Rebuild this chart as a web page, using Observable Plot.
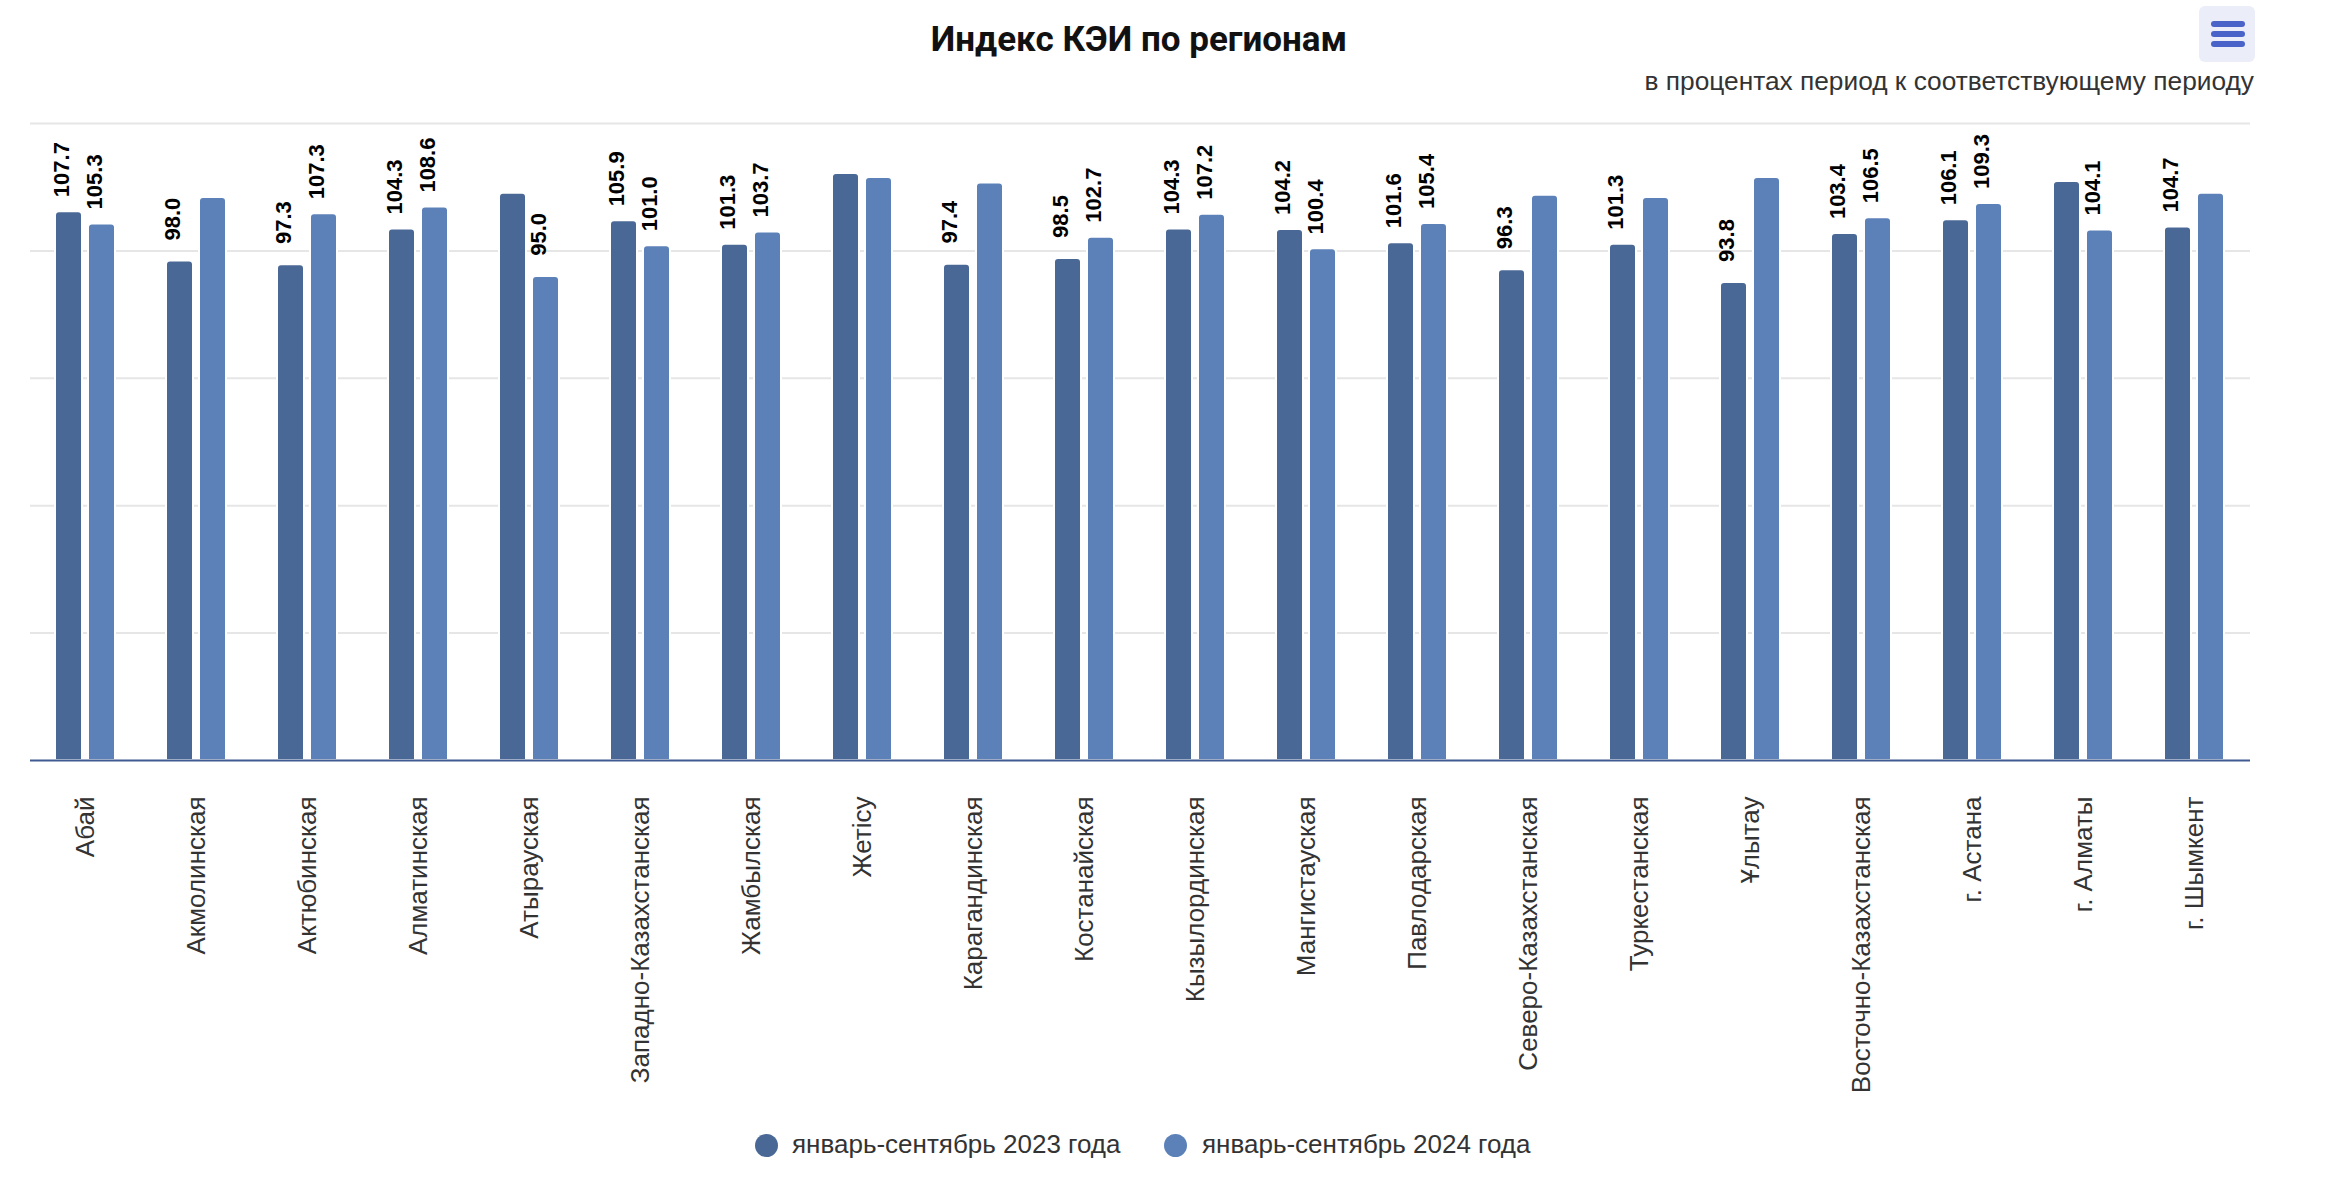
<!DOCTYPE html>
<html>
<head>
<meta charset="utf-8">
<script src="https://cdn.jsdelivr.net/npm/d3@7"></script>
<script src="https://cdn.jsdelivr.net/npm/@observablehq/plot@0.6"></script>
<style>
  html, body { margin: 0; padding: 0; background: #ffffff; }
  #page { position: relative; width: 2326px; height: 1182px; overflow: hidden; font-family: "Liberation Sans", Arial, sans-serif; }
  #header { position: relative; height: 100px; }
  #title { position: absolute; left: 1139px; top: 22px; transform: translateX(-50%); white-space: nowrap;
           font-family: Roboto, "Noto Sans", sans-serif; font-weight: 700; font-size: 35px; line-height: 35px; color: #111; }
  #subtitle { position: absolute; right: 72px; top: 68px; white-space: nowrap; font-size: 26.3px; line-height: 26px; color: #333; }
  #menu { position: absolute; left: 2199px; top: 6px; width: 56px; height: 56px; border-radius: 6px; background: #ebedf9; }
  #menu span { position: absolute; left: 12px; width: 34px; height: 6px; border-radius: 3px; background: #4a63c8; }
  #chart { position: relative; height: 1000px; }
  #legend { position: relative; height: 82px; }
  .lg-dot { position: absolute; width: 23px; height: 23px; border-radius: 50%; top: 33.5px; }
  .lg-text { position: absolute; top: 31px; font-size: 26px; line-height: 26px; color: #333; white-space: nowrap; }
</style>
</head>
<body>
<div id="page">
  <div id="header">
    <div id="title">Индекс КЭИ по регионам</div>
    <div id="subtitle">в процентах период к соответствующему периоду</div>
    <div id="menu"><span style="top:15px"></span><span style="top:24.7px"></span><span style="top:34.7px"></span></div>
  </div>
  <div id="chart"></div>
  <div id="legend"></div>
</div>
<script>
const regions = ["Абай", "Акмолинская", "Актюбинская", "Алматинская", "Атырауская", "Западно-Казахстанская",
  "Жамбылская", "Жетісу", "Карагандинская", "Костанайская", "Кызылординская", "Мангистауская", "Павлодарская",
  "Северо-Казахстанская", "Туркестанская", "Ұлытау", "Восточно-Казахстанская", "г. Астана", "г. Алматы", "г. Шымкент"];
const seriesNames = ["январь-сентябрь 2023 года", "январь-сентябрь 2024 года"];
const values2023 = [107.7, 98.0, 97.3, 104.3, 111.3, 105.9, 101.3, 115.2, 97.4, 98.5, 104.3, 104.2, 101.6, 96.3, 101.3, 93.8, 103.4, 106.1, 113.6, 104.7];
const values2024 = [105.3, 110.5, 107.3, 108.6, 95.0, 101.0, 103.7, 114.4, 113.3, 102.7, 107.2, 100.4, 105.4, 110.9, 110.5, 114.4, 106.5, 109.3, 104.1, 111.3];
// whether the value label is shown above the bar
const labeled2023 = [true, true, true, true, false, true, true, false, true, true, true, true, true, true, true, true, true, true, false, true];
const labeled2024 = [true, false, true, true, true, true, true, false, false, true, true, true, true, false, false, false, true, true, true, false];
const gridTicks = [0, 25, 50, 75, 100, 125];
const seriesColors = ["#4a6896", "#5b81b8"];

const data = regions.flatMap((r, i) => [
  {region: r, series: seriesNames[0], value: values2023[i], labeled: labeled2023[i]},
  {region: r, series: seriesNames[1], value: values2024[i], labeled: labeled2024[i]}
]);

const chart = Plot.plot({
  width: 2326,
  height: 1000,
  marginTop: 23,
  marginBottom: 340,
  marginLeft: 26,
  marginRight: 73,
  style: {fontFamily: "'Liberation Sans', Arial, sans-serif", background: "#ffffff"},
  fx: {domain: regions, padding: 0, label: null},
  x: {domain: seriesNames, paddingInner: 0.176, paddingOuter: 0.7255, axis: null},
  y: {domain: [0, 125], axis: null},
  color: {domain: seriesNames, range: seriesColors},
  marks: [
    Plot.ruleY(gridTicks.slice(1), {stroke: "#e6e6e6", strokeWidth: 2}),
    Plot.barY(data, {fx: "region", x: "series", y: "value", fill: "series", stroke: "#ffffff", strokeWidth: 2, ry1: 4}),
    Plot.ruleY([0], {stroke: "#3f5b92", strokeWidth: 2}),
    Plot.text(data.filter(d => d.labeled), {
      fx: "region", x: "series", y: "value", text: d => d.value.toFixed(1),
      rotate: -90, textAnchor: "middle", dx: -7, dy: -42,
      fontSize: 22, fontWeight: "bold", fill: "#000000"
    }),
    Plot.axisFx({anchor: "bottom", tickSize: 0, tickRotate: -90, tickPadding: 36, fontSize: 26, fill: "#333333", label: null})
  ]
});
document.getElementById("chart").appendChild(chart);

const legend = document.getElementById("legend");
const legendLayout = [{dot: 754.5, text: 792}, {dot: 1163.5, text: 1202}];
seriesNames.forEach((name, i) => {
  const dot = document.createElement("div");
  dot.className = "lg-dot";
  dot.style.left = legendLayout[i].dot + "px";
  dot.style.background = seriesColors[i];
  legend.appendChild(dot);
  const t = document.createElement("div");
  t.className = "lg-text";
  t.style.left = legendLayout[i].text + "px";
  t.textContent = name;
  legend.appendChild(t);
});
</script>
</body>
</html>
